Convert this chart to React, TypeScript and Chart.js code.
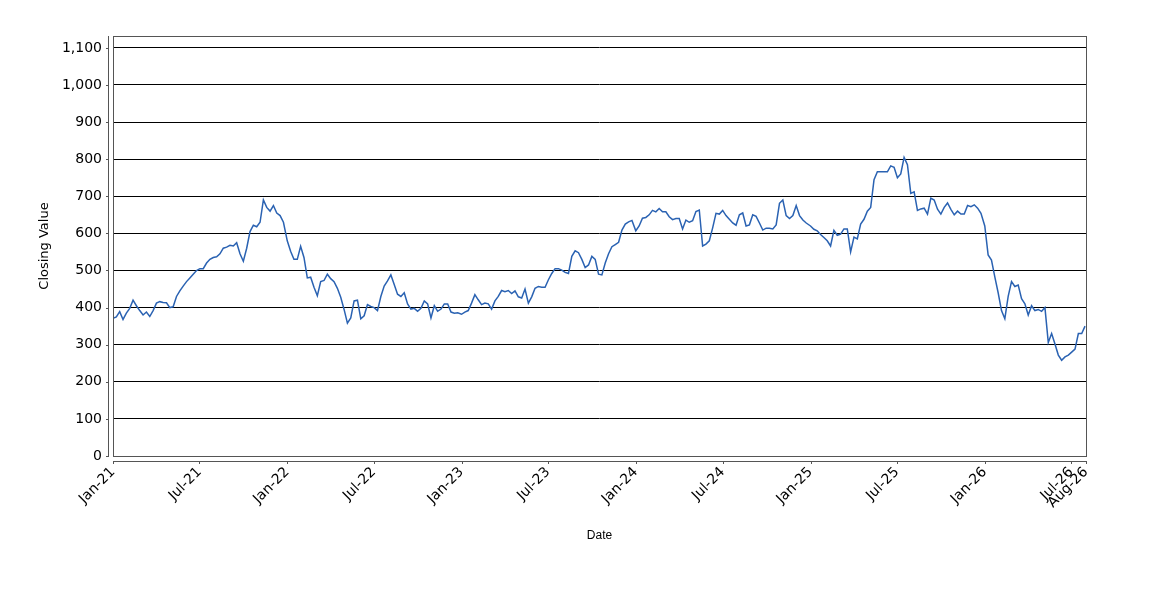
import { useEffect, useRef } from "react";
import { Chart, registerables } from "chart.js";

Chart.register(...registerables);

// weekly closes (one value per week from Jan 1 of each year)
const close2021 = [371, 375, 389, 368, 385, 398, 420, 405, 392, 380, 388, 376, 392, 412, 416, 414, 413, 400, 402, 430, 445, 458, 470, 480, 490, 500, 505, 505, 520, 530, 535, 537, 545, 560, 563, 568, 566, 575, 545, 525, 560, 605, 622, 618, 630, 690, 670, 660, 675, 655, 648, 630];
const close2022 = [580, 552, 530, 530, 565, 535, 480, 482, 455, 432, 470, 473, 490, 478, 470, 452, 428, 395, 358, 372, 418, 420, 370, 378, 408, 403, 400, 392, 430, 458, 472, 488, 462, 436, 430, 440, 410, 396, 398, 390, 398, 418, 410, 372, 405, 390, 396, 410, 410, 388, 385, 386];
const close2023 = [382, 388, 392, 412, 435, 421, 408, 412, 410, 396, 418, 430, 446, 443, 446, 438, 445, 429, 426, 450, 412, 429, 452, 457, 455, 455, 475, 492, 505, 505, 501, 495, 492, 538, 553, 548, 530, 508, 515, 538, 530, 490, 488, 520, 545, 564, 570, 576, 609, 625, 631, 635];
const close2024 = [607, 620, 641, 643, 650, 662, 658, 667, 658, 658, 645, 637, 640, 640, 612, 636, 630, 634, 659, 663, 566, 571, 580, 615, 654, 652, 662, 648, 638, 628, 622, 650, 655, 620, 623, 650, 646, 628, 609, 614, 614, 612, 623, 681, 690, 648, 640, 648, 675, 648, 636, 628];
const close2025 = [620, 611, 607, 597, 589, 580, 566, 608, 595, 598, 612, 612, 550, 590, 585, 625, 638, 660, 670, 745, 766, 766, 766, 766, 782, 778, 750, 760, 805, 785, 708, 712, 662, 666, 668, 652, 695, 690, 665, 652, 670, 682, 665, 650, 660, 652, 652, 675, 672, 677, 668, 654];
const close2026 = [620, 542, 528, 483, 440, 392, 370, 430, 470, 457, 461, 424, 410, 380, 405, 392, 395, 390, 400, 306, 330, 302, 272, 258, 267, 272, 280, 288, 330, 330, 350];

const years = [2021, 2022, 2023, 2024, 2025, 2026];
const closesByYear = [close2021, close2022, close2023, close2024, close2025, close2026];

const tickDates = ["2021-01-01", "2021-07-01", "2022-01-01", "2022-07-01", "2023-01-01", "2023-07-01", "2024-01-01", "2024-07-01", "2025-01-01", "2025-07-01", "2026-01-01", "2026-07-01", "2026-08-01"];
const tickLabels = ["Jan-21", "Jul-21", "Jan-22", "Jul-22", "Jan-23", "Jul-23", "Jan-24", "Jul-24", "Jan-25", "Jul-25", "Jan-26", "Jul-26", "Aug-26"];
const yTicks = [0, 100, 200, 300, 400, 500, 600, 700, 800, 900, 1000, 1100];

const BASE = Date.UTC(2021, 0, 1);
const DAY = 86400000;
const dayOf = (iso: string) => (Date.parse(iso + "T00:00:00Z") - BASE) / DAY;
const tickDays = tickDates.map(dayOf);

const points = years.flatMap((yr, k) =>
  closesByYear[k].map((v, i) => ({ x: (Date.UTC(yr, 0, 1 + 7 * i) - BASE) / DAY, y: v }))
);

const tickFont = { family: "DejaVu Sans", size: 14 };

// JFreeChart-like axis lines sitting a few px outside the plot box
const axisPlugin = {
  id: "axisLines",
  afterDraw(chart: any) {
    const { ctx, chartArea: a, scales } = chart;
    ctx.save();
    ctx.strokeStyle = "#555";
    ctx.lineWidth = 1;
    ctx.strokeRect(a.left + 0.5, a.top + 0.5, a.right - a.left, a.bottom - a.top);

    // y axis
    ctx.beginPath();
    ctx.moveTo(a.left - 4.5, a.top);
    ctx.lineTo(a.left - 4.5, a.bottom + 1);
    yTicks.forEach(v => {
      const y = Math.round(scales.y.getPixelForValue(v)) + 0.5;
      ctx.moveTo(a.left - 7, y);
      ctx.lineTo(a.left - 4, y);
    });
    // x axis
    ctx.moveTo(a.left, a.bottom + 5.5);
    ctx.lineTo(a.right + 1, a.bottom + 5.5);
    tickDays.forEach(d => {
      const x = Math.round(scales.x.getPixelForValue(d)) + 0.5;
      ctx.moveTo(x, a.bottom + 5);
      ctx.lineTo(x, a.bottom + 8);
    });
    ctx.stroke();
    ctx.restore();
  }
};

export default function App() {
  const canvasRef = useRef<HTMLCanvasElement>(null);
  const chartRef = useRef<Chart | null>(null);

  useEffect(() => {
    document.body.style.margin = "0";
    if (!canvasRef.current) return;
    if (chartRef.current) chartRef.current.destroy();

    chartRef.current = new Chart(canvasRef.current, {
      type: "line",
      data: {
        datasets: [
          {
            data: points,
            borderColor: "#2a62b2",
            borderWidth: 1.5,
            pointRadius: 0,
            tension: 0,
            fill: false
          }
        ]
      },
      options: {
        animation: false,
        responsive: false,
        locale: "en-US",
        layout: { padding: { left: 37, top: 36, right: 64, bottom: 57 } },
        plugins: { legend: { display: false }, tooltip: { enabled: false } },
        scales: {
          x: {
            type: "linear",
            min: 0,
            max: tickDays[tickDays.length - 1],
            grid: { display: false, drawTicks: false },
            border: { display: false },
            afterBuildTicks: (scale: any) => {
              scale.ticks = tickDays.map(v => ({ value: v }));
            },
            afterFit: (scale: any) => {
              scale.height = 87;
            },
            ticks: {
              autoSkip: false,
              minRotation: 45,
              maxRotation: 45,
              padding: 8,
              color: "#000",
              font: tickFont,
              callback: (v: any) => tickLabels[tickDays.indexOf(Number(v))] ?? ""
            },
            title: {
              display: true,
              text: "Date",
              color: "#000",
              font: { family: "Liberation Sans", size: 12 },
              padding: 0
            }
          },
          y: {
            min: 0,
            max: 1132,
            grid: { color: "#000", lineWidth: 1, drawTicks: false },
            border: { display: false },
            afterBuildTicks: (scale: any) => {
              scale.ticks = yTicks.map(v => ({ value: v }));
            },
            afterFit: (scale: any) => {
              scale.width = 76;
            },
            ticks: {
              padding: 11,
              color: "#000",
              font: tickFont
            },
            title: {
              display: true,
              text: "Closing Value",
              color: "#000",
              font: { family: "DejaVu Sans", size: 13 },
              padding: 0
            }
          }
        }
      },
      plugins: [axisPlugin]
    });

    return () => {
      if (chartRef.current) {
        chartRef.current.destroy();
        chartRef.current = null;
      }
    };
  }, []);

  return (
    <div style={{ width: 1150, height: 600, background: "#fff" }}>
      <canvas ref={canvasRef} width={1150} height={600} />
    </div>
  );
}
